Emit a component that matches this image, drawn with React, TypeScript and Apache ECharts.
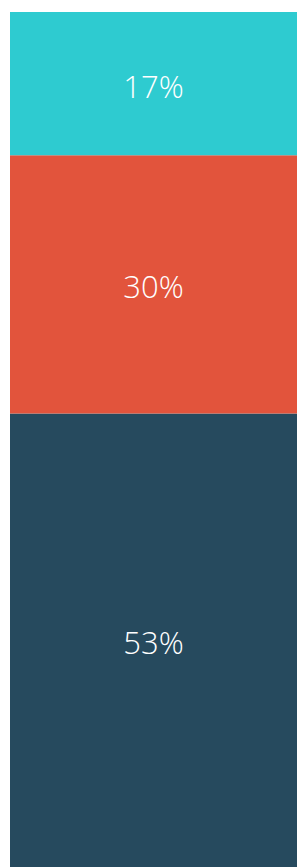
import React, { useEffect, useRef } from "react";
import * as echarts from "echarts";

const categories = ["Total"];
const seriesNames = ["Bottom", "Middle", "Top"];
const seriesValues = [53.05, 30.2, 16.75];
const seriesColors = ["#264A5E", "#E2543C", "#2ECBD0"];

export default function App() {
  const ref = useRef<HTMLDivElement>(null);
  useEffect(() => {
    document.body.style.margin = "0";
    const chart = echarts.init(ref.current!, null, { renderer: "svg" });
    chart.setOption({
      animation: false,
      grid: { left: 10, right: 0, top: 12, bottom: 0 },
      xAxis: { type: "category", data: categories, show: false },
      yAxis: { type: "value", min: 0, max: 100, show: false },
      series: seriesNames.map((name, i) => ({
        name,
        type: "bar",
        stack: "total",
        barWidth: "100%",
        barCategoryGap: 0,
        data: [seriesValues[i]],
        itemStyle: { color: seriesColors[i], borderWidth: 0 },
        label: {
          show: true,
          position: "inside",
          formatter: (p: any) => Math.round(p.value) + "%",
          color: "#ffffff",
          fontSize: 31,
          fontWeight: 300,
          fontFamily: "Open Sans",
          offset: [0, 2],
        },
      })),
    });
    return () => chart.dispose();
  }, []);
  return <div ref={ref} style={{ width: 297, height: 867 }} />;
}
